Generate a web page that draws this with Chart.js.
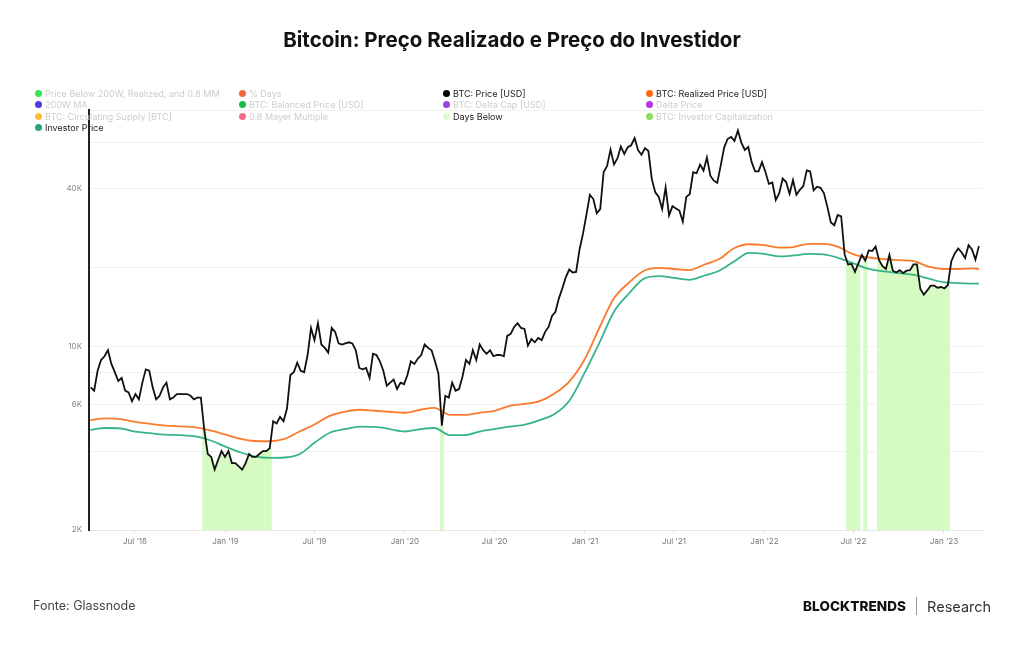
<!DOCTYPE html>
<html>
<head>
<meta charset="utf-8">
<script src="https://cdn.jsdelivr.net/npm/chart.js@4.4.0/dist/chart.umd.min.js"></script>
<style>
  body { margin: 0; width: 1024px; height: 645px; background: #fff; overflow: hidden; font-family: Inter, "Noto Sans", sans-serif; }
  #wrap { position: absolute; left: 0; top: 0; width: 1024px; height: 645px; }
  #title { position: absolute; top: 27px; left: 0; width: 1024px; text-align: center; font-weight: 700; font-size: 20.5px; color: #111; }
  #legend { position: absolute; left: 35px; top: 88px; display: grid; grid-template-columns: 204px 204px 203px 200px; grid-auto-rows: 11.3px; font-size: 9px; }
  #legend .item { display: flex; align-items: center; white-space: nowrap; line-height: 11px; }
  #legend .dot { width: 7px; height: 7px; border-radius: 50%; margin-right: 3px; flex: none; }
  #source { position: absolute; left: 33px; top: 598px; font-size: 12.5px; color: #444; }
  #brand { position: absolute; left: 803px; top: 597px; font-size: 13.5px; color: #111; display: flex; align-items: center; }
  #brand b { font-weight: 800; letter-spacing: 0.1px; }
  #brand .sep { width: 1px; height: 18px; background: #999; margin: 0 10px 0 10px; }
  #brand span { color: #333; font-size: 14.5px; }
</style>
</head>
<body>
<div id="wrap"><canvas id="chart" width="1024" height="645"></canvas></div>
<div id="title">Bitcoin: Preço Realizado e Preço do Investidor</div>
<div id="legend"></div>
<div id="source">Fonte: Glassnode</div>
<div id="brand"><b>BLOCKTRENDS</b><div class="sep"></div><span>Research</span></div>
<script>
// legenda (como no Glassnode, a maioria das séries está desligada)
const legendNames = [
  'Price Below 200W, Realized, and 0.8 MM', '% Days', 'BTC: Price [USD]', 'BTC: Realized Price [USD]',
  '200W MA', 'BTC: Balanced Price [USD]', 'BTC: Delta Cap [USD]', 'Delta Price',
  'BTC: Circulating Supply [BTC]', '0.8 Mayer Multiple', 'Days Below', 'BTC: Investor Capitalization',
  'Investor Price'
];
const legendColors = [
  '#35e655', '#f0683a', '#000000', '#ff6b14',
  '#4a3de0', '#17b84f', '#9a45dc', '#b437e6',
  '#fbbf3c', '#f56b86', '#dcf9cf', '#8fdb5e',
  '#2aa37a'
];
const legendActive = [false, false, true, true, false, false, false, false, false, false, true, false, true];

// preço semanal (K USD), segundas-feiras a partir de 2018-04-02
const priceStart = '2018-04-02';
const price = [
  // 2018
  7.0, 6.8, 8.1, 8.9, 9.2, 9.7, 8.6, 8.0, 7.4, 7.6, 6.8, 6.7, 6.2, 6.6, 6.3, 7.3, 8.2, 8.1, 7.0, 6.3,
  6.5, 7.0, 7.3, 6.3, 6.4, 6.6, 6.6, 6.6, 6.6, 6.5, 6.3, 6.4, 6.4, 4.8, 3.9, 3.8, 3.4, 3.7, 4.0, 3.8,
  // 2019
  4.0, 3.6, 3.6, 3.5, 3.4, 3.6, 3.9, 3.8, 3.8, 3.9, 4.0, 4.0, 4.1, 5.2, 5.1, 5.4, 5.2, 5.8, 7.8, 8.0,
  8.7, 8.1, 8.0, 9.3, 11.8, 10.6, 12.3, 10.2, 9.9, 9.5, 11.8, 11.4, 10.3, 10.2, 10.3, 10.4, 10.3, 9.7, 8.3, 8.2,
  8.3, 7.6, 9.4, 9.3, 8.8, 8.1, 7.1, 7.3, 7.5, 6.9, 7.3, 7.2,
  // 2020
  7.8, 8.8, 8.6, 9.0, 9.3, 10.2, 9.9, 9.7, 8.8, 7.9, 5.0, 6.5, 6.4, 7.3, 6.8, 6.9, 7.7, 8.9, 8.6, 9.7,
  8.9, 10.2, 9.7, 9.4, 9.7, 9.2, 9.3, 9.3, 9.2, 11.0, 11.2, 11.9, 12.3, 11.8, 11.7, 10.1, 10.7, 10.4, 10.8, 10.6,
  11.4, 11.9, 13.1, 13.6, 15.3, 16.7, 18.4, 19.7, 19.2, 19.3, 23.5, 27.0,
  // 2021
  31.9, 38.0, 36.6, 32.3, 33.5, 46.4, 48.9, 56.5, 49.6, 52.3, 58.0, 54.4, 57.7, 58.7, 62.5, 56.2, 54.0, 57.2, 55.8, 43.5,
  38.8, 37.3, 33.5, 40.5, 31.7, 34.4, 33.7, 33.1, 30.0, 37.3, 38.2, 46.3, 45.9, 49.5, 47.0, 52.7, 44.9, 43.0, 42.2, 49.1,
  57.5, 62.0, 63.1, 61.0, 66.8, 60.1, 56.3, 57.8, 50.6, 46.7, 46.7, 50.6,
  // 2022
  46.4, 41.8, 42.3, 36.3, 38.5, 43.8, 42.5, 38.3, 43.2, 38.0, 39.7, 41.0, 47.1, 46.6, 39.5, 40.8, 40.4, 38.5, 34.1, 29.8,
  29.1, 31.8, 31.4, 22.5, 20.6, 20.7, 19.3, 20.8, 22.4, 21.3, 23.3, 23.2, 24.1, 21.4, 20.3, 19.8, 22.4, 19.5, 19.2, 19.6,
  19.1, 19.5, 19.6, 20.6, 20.6, 16.6, 15.8, 16.4, 17.1, 17.1, 16.8, 16.9,
  // 2023
  16.7, 17.2, 21.2, 22.7, 23.7, 22.9, 21.8, 24.4, 23.5, 21.5, 24.2
];

// preço realizado e preço do investidor (K USD), dia 1 de cada mês desde abr/2018 + último ponto
const costStart = '2018-04-01';
const costLastDate = '2023-03-13';
const realized = [
  5.25, 5.33, 5.30, 5.17, 5.08, 5.00, 4.97, 4.93, 4.80,
  4.62, 4.45, 4.37, 4.36, 4.45, 4.75, 5.05, 5.45, 5.65, 5.75, 5.70, 5.65,
  5.60, 5.75, 5.85, 5.50, 5.50, 5.60, 5.70, 5.95, 6.05, 6.20, 6.65, 7.40,
  9.00, 12.0, 15.3, 17.6, 19.5, 20.0, 19.8, 19.6, 20.6, 21.6, 23.8, 24.6,
  24.4, 23.9, 24.0, 24.7, 24.7, 24.0, 22.5, 21.9, 21.6, 21.4, 21.2, 20.2,
  19.8, 19.8, 19.9, 19.8
];
const investor = [
  4.82, 4.90, 4.88, 4.75, 4.68, 4.62, 4.60, 4.55, 4.40,
  4.16, 3.95, 3.82, 3.77, 3.78, 3.90, 4.30, 4.70, 4.85, 4.96, 4.95, 4.85,
  4.75, 4.85, 4.90, 4.60, 4.60, 4.75, 4.85, 4.96, 5.05, 5.25, 5.55, 6.25,
  8.00, 10.5, 13.6, 16.0, 18.2, 18.6, 18.3, 18.0, 18.7, 19.5, 21.2, 22.8,
  22.6, 22.1, 22.3, 22.6, 22.5, 21.8, 20.8, 19.8, 19.4, 19.1, 18.8, 18.2,
  17.6, 17.5, 17.4, 17.4
];

// períodos "Days Below" (barras até o preço)
const belowStart = ['2018-11-19', '2020-03-13', '2022-06-15', '2022-07-23', '2022-08-20', '2022-11-07'];
const belowEnd   = ['2019-04-03', '2020-03-20', '2022-07-16', '2022-07-27', '2022-11-05', '2023-01-14'];

// eixos
const xTickDates = ['2018-07-01', '2019-01-01', '2019-07-01', '2020-01-01', '2020-07-01', '2021-01-01', '2021-07-01', '2022-01-01', '2022-07-01', '2023-01-01'];
const xTickText  = ["Jul '18", "Jan '19", "Jul '19", "Jan '20", "Jul '20", "Jan '21", "Jul '21", "Jan '22", "Jul '22", "Jan '23"];
const yTickValues = [2, 4, 6, 8, 10, 20, 40, 60, 80];
const yTickText   = ['2K', '', '6K', '', '10K', '', '40K', '', ''];

function utc(s) { const p = s.split('-').map(Number); return Date.UTC(p[0], p[1] - 1, p[2]); }
const DAY = 86400000;

// legenda em HTML
const legendEl = document.getElementById('legend');
legendNames.forEach((name, i) => {
  const it = document.createElement('div');
  it.className = 'item';
  it.innerHTML = '<span class="dot" style="background:' + legendColors[i] + '"></span><span style="color:' +
    (legendActive[i] ? '#222' : '#cdcdcd') + '">' + name + '</span>';
  legendEl.appendChild(it);
});

const t0 = utc(priceStart);
const pricePts = price.map((v, i) => ({ x: t0 + i * 7 * DAY, y: v }));

const c0 = new Date(utc(costStart));
function monthDate(i) { return Date.UTC(c0.getUTCFullYear(), c0.getUTCMonth() + i, 1); }
function costPts(arr) {
  return arr.map((v, i) => ({ x: i === arr.length - 1 ? utc(costLastDate) : monthDate(i), y: v }));
}

function isBelow(t) {
  return belowStart.some((s, i) => t >= utc(s) && t <= utc(belowEnd[i]));
}
const belowPts = pricePts.map(p => ({ x: p.x, y: isBelow(p.x) ? p.y : null }));

new Chart(document.getElementById('chart'), {
  type: 'line',
  data: {
    datasets: [
      { label: 'BTC: Price [USD]', data: pricePts, borderColor: '#111', borderWidth: 1.8, pointRadius: 0, tension: 0 },
      { label: 'BTC: Realized Price [USD]', data: costPts(realized), borderColor: '#fb7a2c', borderWidth: 1.8, pointRadius: 0, cubicInterpolationMode: 'monotone' },
      { label: 'Investor Price', data: costPts(investor), borderColor: '#36b48a', borderWidth: 1.8, pointRadius: 0, cubicInterpolationMode: 'monotone' },
      { type: 'bar', label: 'Days Below', data: belowPts, backgroundColor: '#d5fbc3', borderWidth: 0,
        barPercentage: 1, categoryPercentage: 1 }
    ]
  },
  options: {
    responsive: false,
    animation: false,
    devicePixelRatio: 1,
    layout: { padding: { left: 0, right: 42, top: 110, bottom: 85 } },
    plugins: { legend: { display: false }, tooltip: { enabled: false } },
    scales: {
      x: {
        type: 'linear',
        offset: false,
        min: Date.UTC(2018, 2, 29, 12),
        max: Date.UTC(2023, 2, 19, 8),
        afterBuildTicks: s => { s.ticks = xTickDates.map(d => ({ value: utc(d) })); },
        afterFit: s => { s.height = 30; },
        ticks: {
          autoSkip: false, maxRotation: 0, padding: 3, color: '#777',
          font: { family: 'Inter', size: 8 },
          callback: (v, i) => xTickText[i]
        },
        grid: { offset: false, drawOnChartArea: false, drawTicks: true, tickLength: 4, color: '#e2e2e2' },
        border: { color: '#e6e6e6', width: 1 }
      },
      y: {
        type: 'logarithmic',
        min: 2,
        max: 80,
        afterBuildTicks: s => { s.ticks = yTickValues.map(v => ({ value: v })); },
        afterFit: s => { s.width = 89; },
        ticks: {
          padding: 7, color: '#888',
          font: { family: 'Inter', size: 8 },
          callback: (v, i) => yTickText[i]
        },
        grid: { color: '#f0f0f0', drawTicks: false },
        border: { color: '#222', width: 2 }
      }
    }
  }
});
</script>
</body>
</html>
